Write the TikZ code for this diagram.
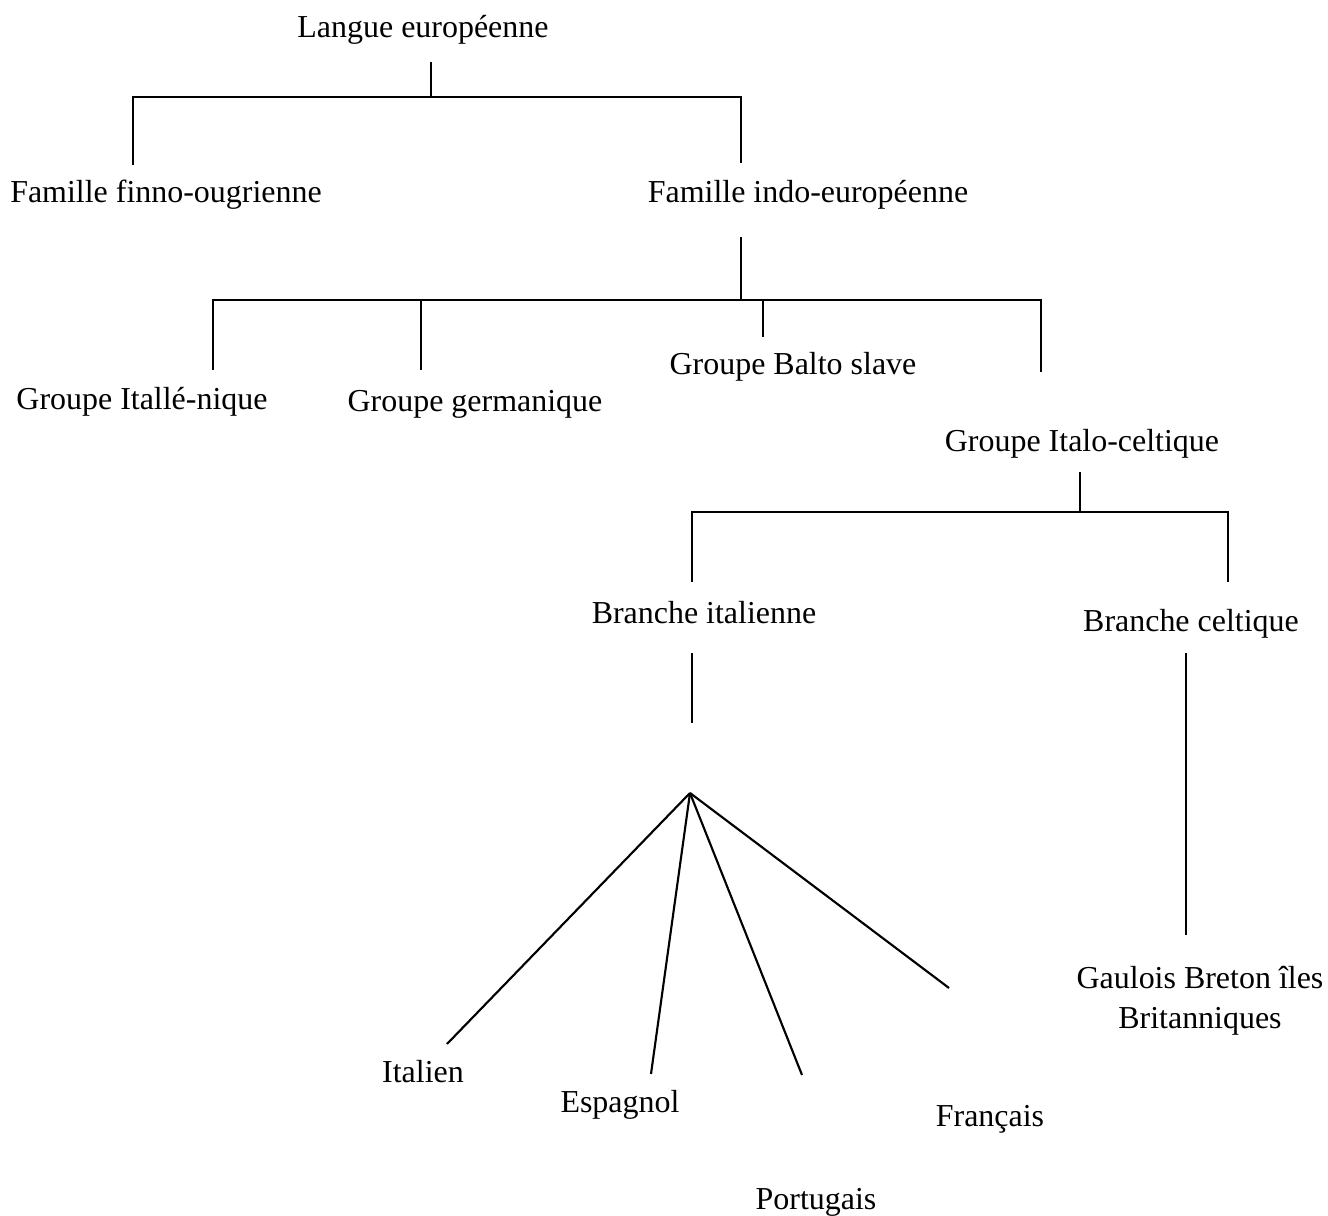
\documentclass[tikz,border=0pt]{standalone}
\usepackage{fontspec}
\setmainfont{Liberation Serif}

\begin{document}
\begin{tikzpicture}[x=0.0132cm, y=-0.0132cm,
  lbl/.style={anchor=base, font=\fontsize{12}{15}\selectfont, inner sep=0pt},
  branch/.style={line width=0.8pt}]

  \useasboundingbox (0,0) rectangle (1328,1216);

  % nodes
  \node [lbl] (langue) at (423,38) {Langue européenne};
  \node [lbl] (finno) at (166,203) {Famille finno-ougrienne};
  \node [lbl] (indo) at (808,203) {Famille indo-européenne};
  \node [lbl] (hellen) at (142,410) {Groupe Itallé-nique};
  \node [lbl] (germ) at (475,412) {Groupe germanique};
  \node [lbl] (balto) at (793,375) {Groupe Balto slave};
  \node [lbl] (italo) at (1082,452) {Groupe Italo-celtique};
  \node [lbl] (italienne) at (704,624) {Branche italienne};
  \node [lbl] (celtique) at (1191,632) {Branche celtique};
  \node [lbl, anchor=center, align=center] (gaulois) at (1200,1001) {Gaulois Breton îles\\Britanniques};
  \node [lbl] (italien) at (423,1083) {Italien};
  \node [lbl] (espagnol) at (620,1113) {Espagnol};
  \node [lbl] (francais) at (990,1127) {Français};
  \node [lbl] (portugais) at (816,1210) {Portugais};

  % branch points
  \coordinate (langue-foot) at (431,62);
  \coordinate (langue-bar) at (431,97);
  \coordinate (finno-bar) at (133,97);
  \coordinate (finno-top) at (133,165);
  \coordinate (indo-bar) at (741,97);
  \coordinate (indo-top) at (741,163);
  \coordinate (indo-foot) at (741,237);
  \coordinate (indo-fork) at (741,300);
  \coordinate (hellen-bar) at (213,300);
  \coordinate (hellen-top) at (213,370);
  \coordinate (germ-bar) at (421,300);
  \coordinate (germ-top) at (421,370);
  \coordinate (balto-bar) at (763,300);
  \coordinate (balto-top) at (763,337);
  \coordinate (italo-bar) at (1041,300);
  \coordinate (italo-top) at (1041,372);
  \coordinate (italo-foot) at (1080,472);
  \coordinate (italo-fork) at (1080,512);
  \coordinate (italienne-bar) at (692,512);
  \coordinate (italienne-top) at (692,582);
  \coordinate (celtique-bar) at (1228,512);
  \coordinate (celtique-top) at (1228,582);
  \coordinate (italienne-foot) at (692,653);
  \coordinate (italienne-end) at (692,723);
  \coordinate (celtique-foot) at (1186,653);
  \coordinate (gaulois-top) at (1186,935);
  \coordinate (apex) at (690,793);
  \coordinate (italien-top) at (447,1044);
  \coordinate (espagnol-top) at (651,1074);
  \coordinate (portugais-top) at (802,1075);
  \coordinate (francais-top) at (949,988);

  % branches
  \draw [branch] (langue-foot) -- (langue-bar);
  \draw [branch] (finno-top) -- (finno-bar) -- (indo-bar) -- (indo-top);
  \draw [branch] (indo-foot) -- (indo-fork);
  \draw [branch] (hellen-top) -- (hellen-bar) -- (italo-bar) -- (italo-top);
  \draw [branch] (germ-bar) -- (germ-top);
  \draw [branch] (balto-bar) -- (balto-top);
  \draw [branch] (italo-foot) -- (italo-fork);
  \draw [branch] (italienne-top) -- (italienne-bar) -- (celtique-bar) -- (celtique-top);
  \draw [branch] (italienne-foot) -- (italienne-end);
  \draw [branch] (celtique-foot) -- (gaulois-top);
  \draw [branch] (apex) -- (italien-top);
  \draw [branch] (apex) -- (espagnol-top);
  \draw [branch] (apex) -- (portugais-top);
  \draw [branch] (apex) -- (francais-top);

\end{tikzpicture}
\end{document}
